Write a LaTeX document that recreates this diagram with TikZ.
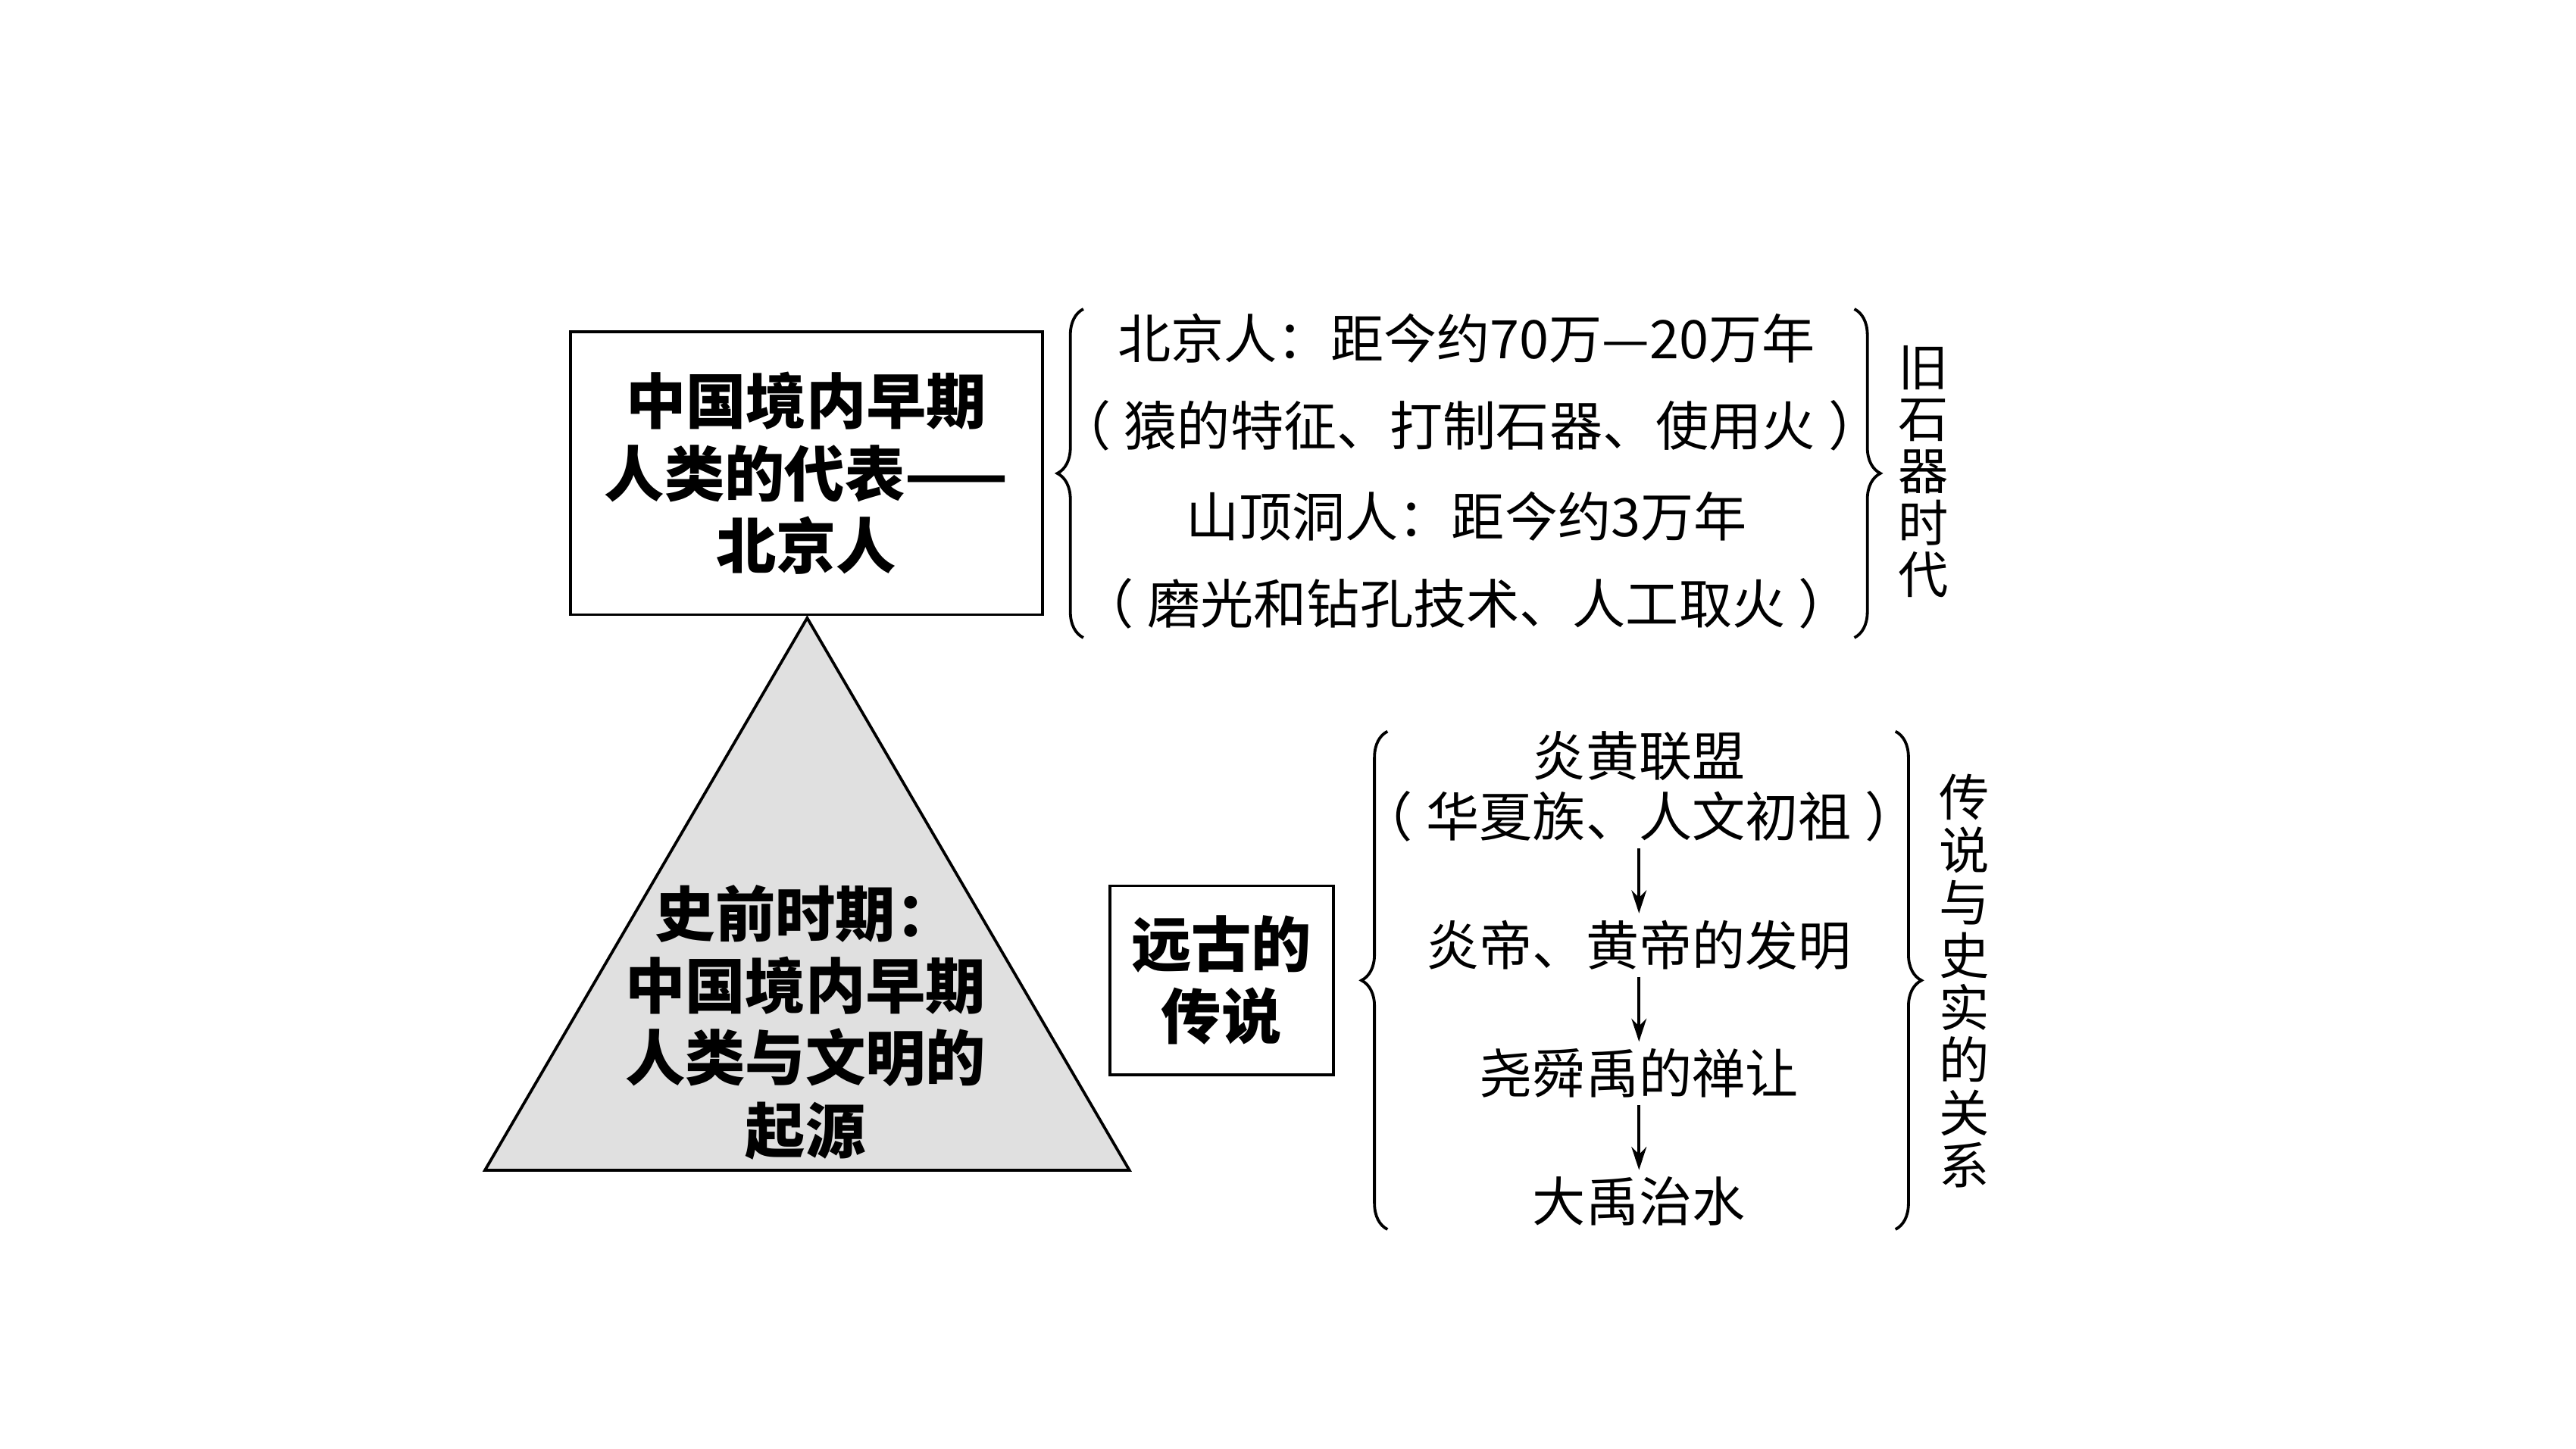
\documentclass[tikz,border=0pt]{standalone}
\usepackage{fontspec}
\setmainfont{Noto Sans CJK SC}
\usetikzlibrary{arrows.meta,decorations.pathreplacing}
\definecolor{trifill}{gray}{0.88}
\newcommand{\lp}{（\kern0.25em}
\newcommand{\rp}{\kern0.25em）}

\begin{document}
\begin{tikzpicture}[x=0.1mm,y=-0.1mm,
    title/.style={font=\bfseries\fontsize{10.4}{12.5}\selectfont,align=center,inner sep=0pt},
    boxed/.style={title,draw,line width=0.5pt},
    item/.style={font=\fontsize{9.2}{10.5}\selectfont,align=center,inner sep=1pt},
    side/.style={font=\fontsize{8.7}{9.0}\selectfont,align=center,inner sep=0pt},
    lbrace/.style={decorate,decoration={brace,amplitude=4.5pt},line width=0.5pt},
    flow/.style={-{Stealth[length=4pt,width=2.6pt]},line width=0.5pt}]
             \useasboundingbox (0,0) rectangle (1567,881.6);
             % pyramid
             \coordinate (apex) at (491,376);
             \coordinate (bl) at (295,712);
             \coordinate (br) at (687,712);
             \draw[fill=trifill,line width=0.5pt] (apex) -- (br) -- (bl) -- cycle;
             \node[title] (origin) at (490,622) {史前时期：\\中国境内早期\\人类与文明的\\起源};
             % upper part
             \node[boxed,minimum width=28.7mm,minimum height=17.2mm] (bjr) at (490.5,288) {中国境内早期\\人类的代表——\\北京人};
             \draw[lbrace] (659,388) -- (659,188);
             \node[item] (bj) at (892,206) {北京人：距今约70万—20万年};
             \node[item] (bjf) at (894,259) {\lp 猿的特征、打制石器、使用火\rp};
             \node[item] (sd) at (892,314) {山顶洞人：距今约3万年};
             \node[item] (sdf) at (892,367) {\lp 磨光和钻孔技术、人工取火\rp};
             \draw[lbrace] (1128,188) -- (1128,388);
             \node[side] (old) at (1170,287) {旧\\石\\器\\时\\代};
             % lower part
             \node[boxed,minimum width=13.6mm,minimum height=11.5mm] (leg) at (743,596.5) {远古的\\传说};
             \draw[lbrace] (844,748) -- (844,445);
             \node[item] (yh) at (997,478.5) {炎黄联盟\\\lp 华夏族、人文初祖\rp};
             \node[item] (fm) at (997,575) {炎帝、黄帝的发明};
             \node[item] (sr) at (997,653) {尧舜禹的禅让};
             \node[item] (zs) at (997,731) {大禹治水};
             \draw[flow] (yh) -- (fm);
             \draw[flow] (fm) -- (sr);
             \draw[flow] (sr) -- (zs);
             \draw[lbrace] (1153,445) -- (1153,748);
             \node[side,font=\fontsize{8.7}{9.1}\selectfont] (rel) at (1195,597) {传\\说\\与\\史\\实\\的\\关\\系};
            \end{tikzpicture}
\end{document}
